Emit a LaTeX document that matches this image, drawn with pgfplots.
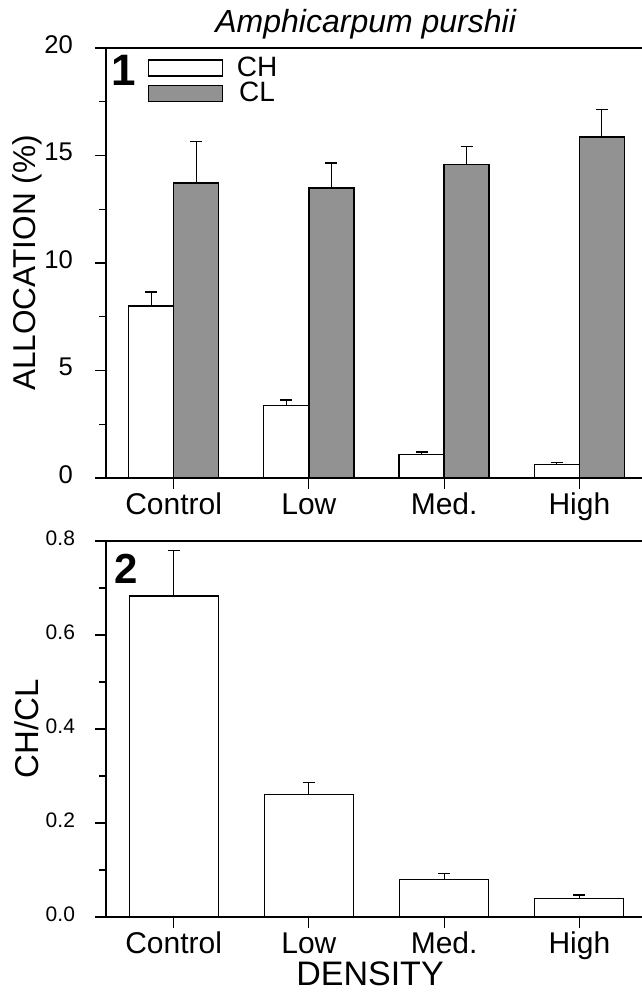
\documentclass[border=0pt]{standalone}
\usepackage{pgfplots}
\pgfplotsset{compat=1.18}
\usepackage{fontspec}
\setmainfont{Liberation Sans}
\definecolor{barGray}{RGB}{146,146,146}
\pgfplotsset{
  common/.style={
    scale only axis, width=270.5pt,
    xmin=-0.5, xmax=3.5, ymin=0,
    xtick={0,1,2,3}, xticklabels={Control,Low,Med.,High},
    tick align=outside, tick pos=left,
    major tick length=5.5pt, minor tick length=3.5pt,
    minor y tick num=1,
    axis line style={line width=0.7pt},
    every tick/.style={black, line width=0.6pt},
    /pgf/number format/assume math mode=true,
    typeset ticklabels with strut,
    xticklabel style={font=\fontsize{15}{15}\selectfont, yshift=1.5pt},
    error bars/y dir=plus, error bars/y explicit,
    error bars/error mark options={rotate=90, mark size=3pt, line width=0.6pt},
    error bars/error bar style={line width=0.6pt},
  }
}
\begin{document}
\begin{tikzpicture}
\useasboundingbox (0,0) rectangle (321pt,496pt);
\begin{axis}[common,
  at={(53pt,257pt)}, anchor=south west, height=215pt,
  ymax=20, ytick={0,5,10,15,20},
  ybar=0pt, bar width=0.333,
  yticklabel style={font=\fontsize{12.8}{12.8}\selectfont, xshift=-7.5pt},
  ylabel={ALLOCATION (\%)},
  ylabel style={font=\fontsize{15.8}{15.8}\selectfont, at={(axis description cs:-0.146,0.5)}, anchor=center},
  title={\itshape Amphicarpum purshii},
  every axis title shift=0pt,
  title style={font=\fontsize{16}{16}\selectfont, at={(axis description cs:0.48,1.035)}, anchor=base, yshift=0pt},
  legend image code/.code={\draw[#1, line width=0.6pt] (0pt,-4pt) rectangle (37pt,4pt); \path (42pt,0pt);},
  legend style={draw=none, fill=none, at={(axis description cs:0.076,0.99)}, anchor=north west,
    font=\fontsize{14}{14}\selectfont, row sep=-2.5pt, inner sep=0pt},
]
\addplot[draw=black, fill=white, line width=0.6pt] coordinates {
  (0,8.0) +- (0,0.65)
  (1,3.38) +- (0,0.25)
  (2,1.1) +- (0,0.11)
  (3,0.63) +- (0,0.10)
};
\addplot[draw=black, fill=barGray, line width=0.8pt] coordinates {
  (0,13.72) +- (0,1.92)
  (1,13.49) +- (0,1.16)
  (2,14.58) +- (0,0.82)
  (3,15.86) +- (0,1.28)
};
\legend{CH,CL}
\node[font=\bfseries\fontsize{22}{22}\selectfont] at (axis description cs:0.033,0.947) {1};
\end{axis}
\begin{axis}[common,
  at={(53pt,37.5pt)}, anchor=south west, height=188pt,
  ymax=0.8, ytick={0,0.2,0.4,0.6,0.8},
  ybar=0pt, bar width=0.658,
  yticklabel style={font=\fontsize{10.5}{10.5}\selectfont, xshift=-6.5pt, /pgf/number format/.cd, fixed, fixed zerofill, precision=1},
  ylabel={CH/CL},
  ylabel style={font=\fontsize{16.5}{16.5}\selectfont, at={(axis description cs:-0.146,0.5)}, anchor=center},
  xlabel={DENSITY},
  xlabel style={font=\fontsize{17}{17}\selectfont, at={(axis description cs:0.488,-0.152)}, anchor=center},
]
\addplot[draw=black, fill=white, line width=0.6pt] coordinates {
  (0,0.683) +- (0,0.096)
  (1,0.260) +- (0,0.026)
  (2,0.079) +- (0,0.013)
  (3,0.040) +- (0,0.007)
};
\node[font=\bfseries\fontsize{21}{21}\selectfont] at (axis description cs:0.038,0.926) {2};
\end{axis}
\end{tikzpicture}
\end{document}
